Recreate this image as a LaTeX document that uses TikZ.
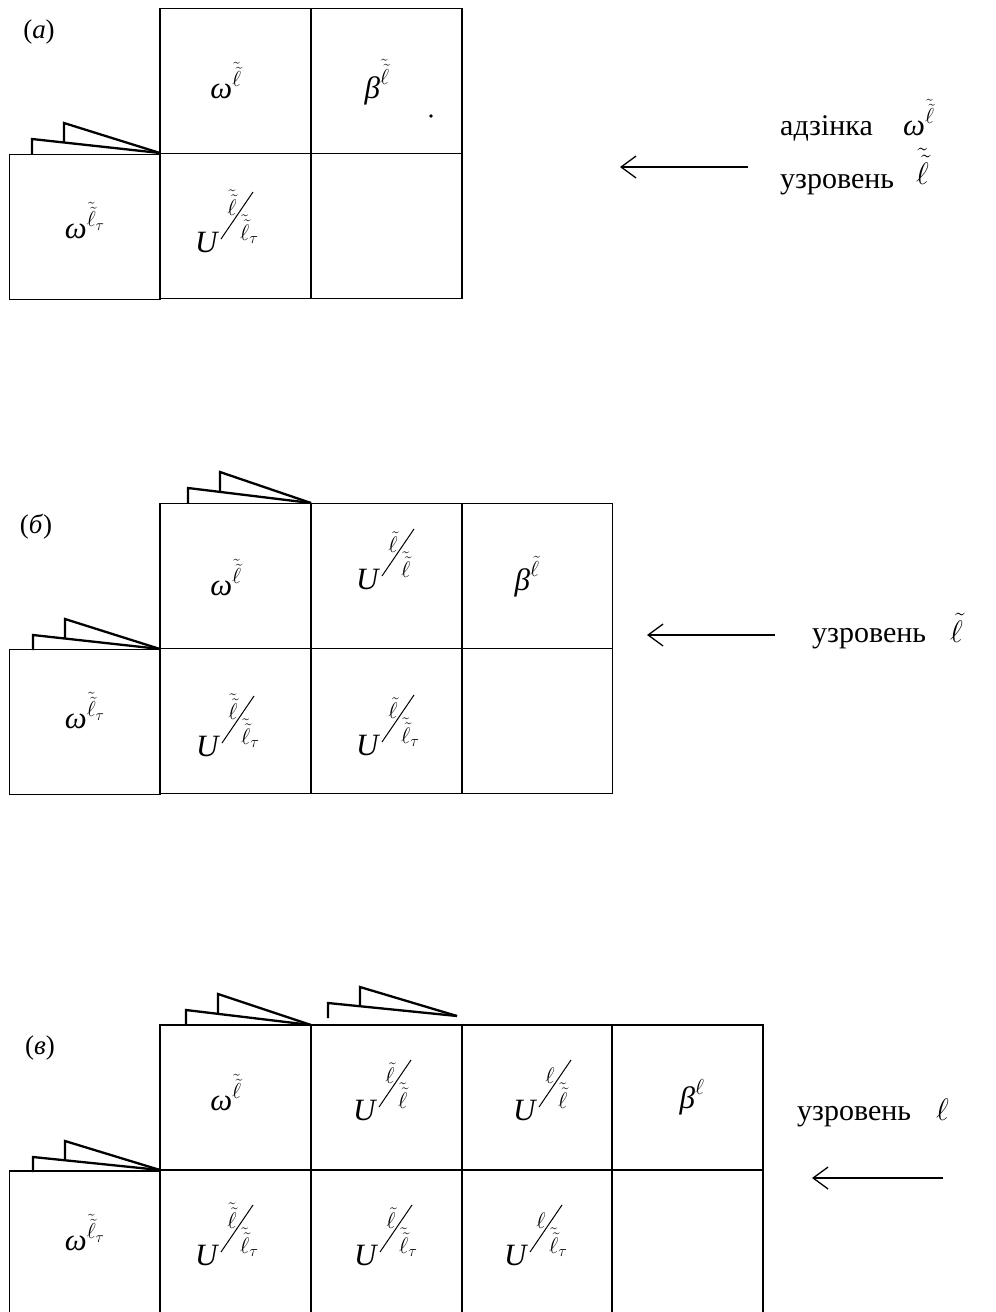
\RequirePackage{fix-cm}
\documentclass[tikz,border=0pt]{standalone}
\usepackage{fontspec}
\setmainfont{Liberation Serif}
\usetikzlibrary{arrows.meta,calc}

\newcommand\gom{\hbox{\itshape ω}}
\newcommand\gbe{\hbox{\itshape β}}
\newcommand\gU{\hbox{\itshape U}}
\newcommand\tl{\tilde{\ell}}
\newcommand\ttl{\tilde{\tilde{\ell}}}

\tikzset{
  cellbox/.style={draw, line width=1.8pt, minimum width=151pt, minimum height=145pt, inner sep=0pt, outer sep=0pt},
  mlbl/.style={font=\fontsize{31}{36}\selectfont, inner sep=0pt},
  fraclbl/.style={font=\fontsize{32}{38}\selectfont, inner sep=0pt},
  cyr/.style={font=\fontsize{30}{36}\selectfont, inner sep=0pt, anchor=base west},
  panellbl/.style={font=\fontsize{27}{32}\selectfont, inner sep=0pt},
  flapline/.style={line width=2.3pt, line join=miter},
  slashline/.style={line width=1pt},
  levelarrow/.style={line width=1.3pt, {Straight Barb[length=15pt,width=22pt,line width=1.3pt]}-},
}

\newcommand\ulabel[5]{%
  \node[mlbl, anchor=base west] (#1U) at (#2,#3) {$\gU$};
  \node[fraclbl, anchor=base] (#1N) at ({#2+37},{#3-37}) {$\scriptstyle #4$};
  \draw[slashline] ({#2+26},{#3-13}) -- ({#2+58},{#3-60});
  \node[fraclbl, anchor=base west] (#1D) at ({#2+45},{#3-12}) {$\scriptstyle #5$};
}
\newcommand\flaps[4]{%
  \draw[flapline] (#1,#2) -- (#1,{#2-15}) -- (#3,#4);
  \draw[flapline] ($(#1,{#2-15})!{32/(#3-#1)}!(#3,#4)$) -- ({#1+32},{#2-31}) -- (#3,#4);
}

\begin{document}
\begin{tikzpicture}[x=1pt,y=-1pt]
\useasboundingbox (0,0) rectangle (996,1312);
\clip (0,0) rectangle (996,1312);

% ---------------- (a) ----------------
\node[panellbl] (pa) at (39,32) {(\textit{а})};
\node[cellbox] (a11) at (235.5,81) {};
\node[cellbox] (a12) at (386.5,81) {};
\node[cellbox] (a21) at (235.5,226) {};
\node[cellbox] (a22) at (386.5,226) {};
\node[cellbox] (a20) at (85,227) {};
\flaps{32}{154}{160}{153}
\node[mlbl, anchor=base] (a11L) at (226,98) {$\gom^{\ttl}$};
\node[mlbl, anchor=base] (a12L) at (377,98) {$\gbe^{\ttl}$};
\node[mlbl, anchor=base] (a20L) at (85,238) {$\gom^{\ttl_\tau}$};
\ulabel{a21}{195}{252}{\ttl}{\ttl_\tau}
\fill (431,116) circle (1.8);
\node[cyr] (atx1) at (780,135) {адзінка};
\node[mlbl, anchor=base west] (atx2) at (903,135) {$\gom^{\ttl}$};
\node[cyr] (atx3) at (780,188) {узровень};
\node[mlbl, anchor=base west] (atx4) at (916,184) {$\ttl$};
\coordinate (aArrTip) at (620,167);
\coordinate (aArrTail) at (748,167);
\draw[levelarrow] (aArrTip) -- (aArrTail);

% ---------------- (б) ----------------
\node[panellbl] (pb) at (36,527) {(\textit{б})};
\node[cellbox] (b11) at (235.5,576) {};
\node[cellbox] (b12) at (386.5,576) {};
\node[cellbox] (b13) at (537,576) {};
\node[cellbox] (b21) at (235.5,721) {};
\node[cellbox] (b22) at (386.5,721) {};
\node[cellbox] (b23) at (537,721) {};
\node[cellbox] (b20) at (85,722) {};
\flaps{33}{650}{160}{649}
\flaps{188}{503}{311}{503}
\node[mlbl, anchor=base] (b11L) at (226,595) {$\gom^{\ttl}$};
\ulabel{b12}{356}{589}{\tl}{\ttl}
\node[mlbl, anchor=base] (b13L) at (527,590) {$\gbe^{\tl}$};
\node[mlbl, anchor=base] (b20L) at (85,728) {$\gom^{\ttl_\tau}$};
\ulabel{b21}{196}{756}{\ttl}{\ttl_\tau}
\ulabel{b22}{356}{755}{\tl}{\ttl_\tau}
\node[cyr] (btx1) at (812,642) {узровень};
\node[mlbl, anchor=base west] (btx2) at (950,642) {$\tl$};
\coordinate (bArrTip) at (647,635);
\coordinate (bArrTail) at (775,635);
\draw[levelarrow] (bArrTip) -- (bArrTail);

% ---------------- (в) ----------------
\node[panellbl] (pc) at (40,1048) {(\textit{в})};
\node[cellbox] (c11) at (235.5,1097.5) {};
\node[cellbox] (c12) at (386.5,1097.5) {};
\node[cellbox] (c13) at (537,1097.5) {};
\node[cellbox] (c14) at (687.5,1097.5) {};
\node[cellbox] (c21) at (235.5,1242.5) {};
\node[cellbox] (c22) at (386.5,1242.5) {};
\node[cellbox] (c23) at (537,1242.5) {};
\node[cellbox] (c24) at (687.5,1242.5) {};
\node[cellbox] (c20) at (85,1243.5) {};
\flaps{33}{1172}{160}{1170}
\flaps{186}{1025}{311}{1025}
\flaps{328}{1018}{457}{1016}
\node[mlbl, anchor=base] (c11L) at (226,1110) {$\gom^{\ttl}$};
\ulabel{c12}{353}{1120}{\tl}{\ttl}
\ulabel{c13}{513}{1120}{\ell}{\ttl}
\node[mlbl, anchor=base] (c14L) at (692,1108) {$\gbe^{\ell}$};
\node[mlbl, anchor=base] (c20L) at (85,1250) {$\gom^{\ttl_\tau}$};
\ulabel{c21}{195}{1265}{\ttl}{\ttl_\tau}
\ulabel{c22}{354}{1265}{\tl}{\ttl_\tau}
\ulabel{c23}{504}{1265}{\ell}{\ttl_\tau}
\node[cyr] (ctx1) at (797,1120) {узровень};
\node[mlbl, anchor=base west] (ctx2) at (936,1120) {$\ell$};
\coordinate (cArrTip) at (812,1178);
\coordinate (cArrTail) at (943,1178);
\draw[levelarrow] (cArrTip) -- (cArrTail);
\end{tikzpicture}
\end{document}
